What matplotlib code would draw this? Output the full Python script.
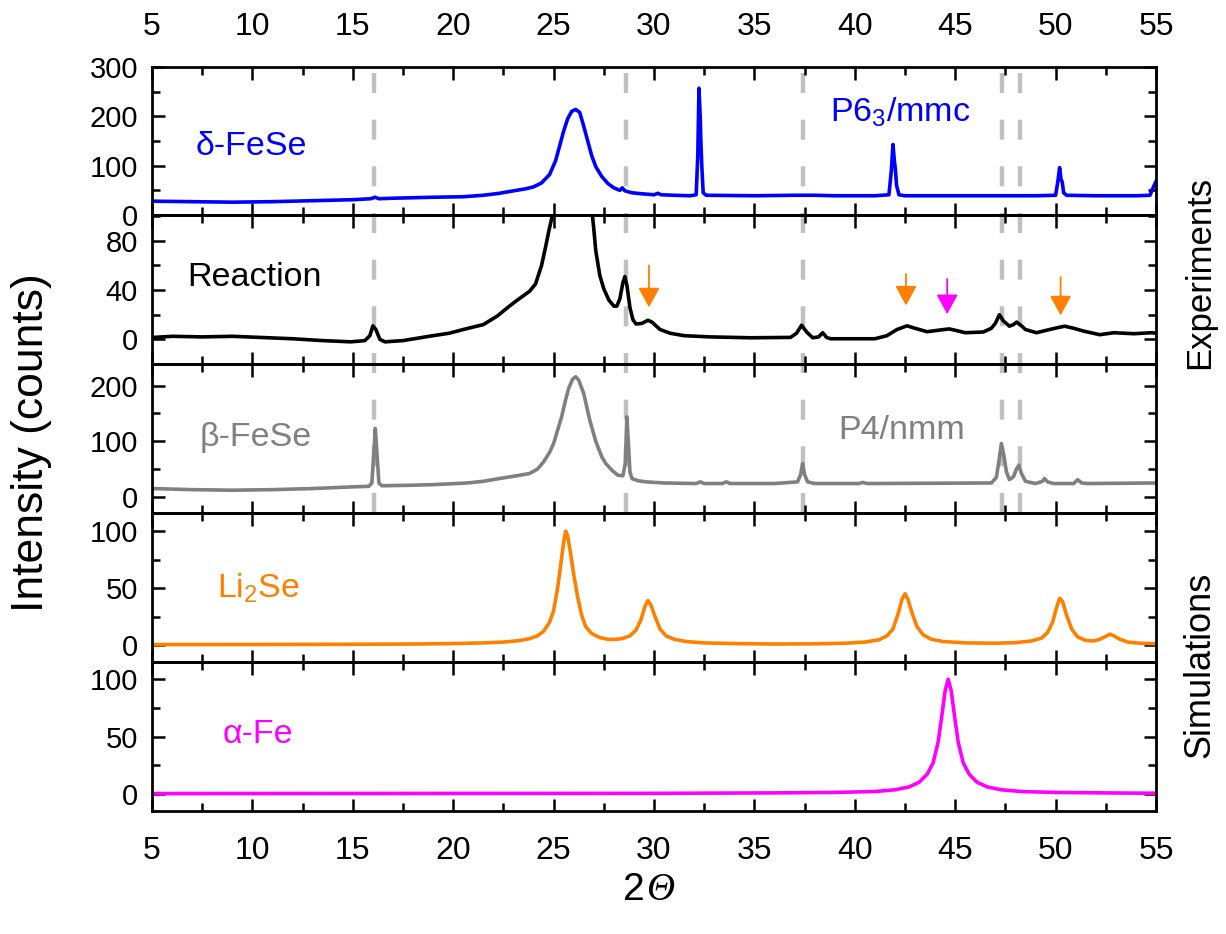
import matplotlib.pyplot as plt
from matplotlib.lines import Line2D
from matplotlib.ticker import MultipleLocator
import matplotlib.transforms as mtransforms

plt.rcParams['font.family'] = ['Liberation Sans', 'DejaVu Sans']
plt.rcParams['mathtext.fontset'] = 'custom'
plt.rcParams['mathtext.rm'] = 'Liberation Sans'
plt.rcParams['mathtext.it'] = 'Liberation Sans:italic'

# ---- data (2theta, counts) ----
delta_x = [5.0, 7.0, 9.0, 11.0, 13.0, 15.0, 15.9, 16.1, 16.3, 17.0, 19.0, 20.5, 21.5, 22.3,
           23.0, 23.6, 24.0, 24.4, 24.8, 25.1, 25.3, 25.5, 25.7, 25.9, 26.1, 26.3, 26.5,
           26.7, 26.9, 27.1, 27.4, 27.7, 28.0, 28.3, 28.42, 28.55, 28.9, 29.4, 30.0, 30.2,
           30.35, 31.0, 31.8, 32.1, 32.18, 32.24, 32.3, 32.33, 32.38, 32.45, 32.6, 35.0,
           37.0, 38.0, 39.0, 41.0, 41.7, 41.82, 41.9, 41.97, 42.02, 42.08, 42.2, 42.5, 45.0,
           47.0, 49.0, 50.0, 50.12, 50.2, 50.27, 50.33, 50.4, 50.55, 52.0, 54.0, 54.7, 54.85, 55.0]
delta_y = [28, 27, 26, 27, 29, 31, 33, 36, 33, 34, 36, 37, 40, 44,
           49, 53, 57, 65, 82, 110, 140, 170, 195, 210, 214, 208, 180,
           150, 120, 98, 78, 64, 55, 50, 55, 49, 45, 43, 41, 44,
           41, 40, 39, 41, 120, 257, 200, 155, 100, 45, 40, 39,
           40, 40, 39, 39, 41, 90, 143, 110, 93, 60, 41, 39, 39,
           39, 39, 40, 70, 96, 72, 67, 45, 40, 39, 39, 40, 55, 68]

reaction_x = [5.0, 6.0, 7.5, 9.0, 10.5, 12.0, 13.5, 14.9, 15.6, 15.85, 16.0, 16.15, 16.35,
              16.6, 17.5, 18.8, 19.8, 20.5, 21.5, 22.2, 22.8, 23.2, 23.8, 24.1, 24.4, 24.6,
              24.75, 24.9, 25.0, 25.2, 25.6, 26.0, 26.4, 26.8, 26.93, 27.0, 27.1, 27.3, 27.5,
              27.75, 28.0, 28.15, 28.3, 28.45, 28.55, 28.65, 28.8, 28.95, 29.1, 29.4, 29.7,
              29.9, 30.3, 30.8, 31.5, 32.8, 34.8, 36.8, 37.1, 37.35, 37.6, 37.9, 38.2, 38.4,
              38.6, 38.8, 41.0, 41.6, 42.1, 42.6, 43.0, 43.6, 44.2, 44.7, 45.1, 45.5, 46.4,
              46.8, 47.0, 47.2, 47.4, 47.7, 47.9, 48.06, 48.3, 48.5, 49.05, 49.7, 50.1, 50.45,
              50.9, 51.4, 52.2, 52.9, 53.9, 54.8, 55.0]
reaction_y = [1.5, 2.5, 2, 2.5, 1.5, 0.5, -1, -2, -1, 3, 11, 8, 0,
              -2, -1, 2.5, 5, 8, 12, 19, 27, 32, 39, 45, 60, 75,
              87, 98, 110, 140, 190, 210, 200, 150, 101, 90, 72, 52, 41,
              32, 27, 27, 33, 46, 51, 44, 26, 16, 12.5, 13, 15.5,
              14, 8, 5, 3, 2, 1.3, 1.6, 5, 11.5, 6, 1.3, 2, 5.4,
              1.5, 0.5, 0.5, 3, 8, 11, 9, 6.2, 7.5, 8.5, 7, 5.4, 6,
              9, 13, 20, 15, 10.7, 12, 14, 11, 8, 5.4, 8, 9.5, 10.7,
              9, 6.7, 3.8, 5.4, 4.6, 5.4, 5]

beta_x = [5.0, 7.0, 9.0, 11.0, 13.0, 15.0, 15.8, 15.95, 16.05, 16.12, 16.2, 16.3, 16.45,
          18.0, 19.0, 20.7, 21.5, 22.3, 23.0, 23.8, 24.2, 24.5, 24.8, 25.0, 25.2, 25.4,
          25.6, 25.75, 25.95, 26.1, 26.25, 26.5, 26.8, 27.1, 27.4, 27.6, 27.9, 28.2, 28.45,
          28.57, 28.65, 28.72, 28.8, 28.9, 29.2, 29.6, 30.5, 32.1, 32.3, 32.5, 33.4, 33.6,
          33.8, 36.0, 37.15, 37.3, 37.4, 37.5, 37.65, 38.0, 40.2, 40.4, 40.6, 46.8, 47.05,
          47.2, 47.3, 47.42, 47.55, 47.7, 47.9, 48.05, 48.17, 48.3, 48.5, 49.0, 49.35, 49.45,
          49.6, 49.9, 50.9, 51.1, 51.3, 51.6, 55.0]
beta_y = [15, 13, 12, 13, 15, 18, 19, 25, 80, 123, 80, 25, 20,
          21, 22, 25, 28, 33, 37, 42, 50, 63, 80, 96, 120, 144,
          175, 195, 212, 216, 210, 186, 138, 100, 72, 60, 48, 39, 38,
          60, 144, 100, 45, 33, 29, 27, 25, 24, 27, 24, 24, 27,
          24, 24, 27, 40, 60, 40, 27, 24, 24, 26, 24, 25, 35,
          70, 96, 75, 45, 31, 36, 50, 57, 42, 28, 24, 28, 33,
          27, 24, 24, 31, 25, 24, 25]

li2se_x = [5.0, 10.0, 15.0, 18.0, 20.0, 21.5, 22.5, 23.3, 23.8, 24.2, 24.5, 24.8, 25.0,
           25.2, 25.35, 25.5, 25.6, 25.7, 25.85, 26.0, 26.2, 26.4, 26.6, 26.9, 27.3, 27.7,
           28.0, 28.4, 28.8, 29.1, 29.35, 29.55, 29.7, 29.85, 30.05, 30.3, 30.6, 31.0, 31.6,
           32.5, 34.0, 36.0, 38.0, 39.5, 40.5, 41.2, 41.6, 41.9, 42.15, 42.35, 42.5, 42.65,
           42.85, 43.1, 43.4, 43.8, 44.4, 45.5, 47.0, 48.0, 48.8, 49.3, 49.6, 49.85, 50.05,
           50.2, 50.35, 50.55, 50.8, 51.1, 51.5, 51.9, 52.2, 52.5, 52.7, 52.9, 53.2, 53.6,
           54.2, 55.0]
li2se_y = [0.3, 0.4, 0.6, 0.8, 1.2, 1.8, 2.5, 3.8, 5.5, 8, 12, 20, 30,
           50, 70, 90, 100, 96, 80, 62, 42, 26, 16, 10, 6.5, 5,
           4.8, 5.5, 8, 13, 22, 34, 39, 35, 25, 14, 8, 5, 3,
           1.8, 1.2, 0.8, 1.0, 1.5, 2.5, 4.5, 8, 14, 27, 40, 45, 40,
           28, 16, 9, 5, 3, 1.8, 1.5, 2, 3.5, 6, 11, 20, 33,
           41, 38, 26, 14, 7, 4, 3.5, 5, 7.5, 9.5, 8, 5, 2.5,
           1.5, 1]

fe_x = [5.0, 20.0, 30.0, 36.0, 39.0, 41.0, 42.0, 42.7, 43.2, 43.6, 43.9, 44.15, 44.35,
        44.5, 44.65, 44.8, 44.95, 45.15, 45.4, 45.7, 46.1, 46.6, 47.3, 48.3, 50.0, 53.0, 55.0]
fe_y = [0.2, 0.3, 0.4, 0.8, 1.2, 2, 3.5, 6, 10, 17, 27, 45, 70,
        90, 100, 90, 70, 45, 27, 17, 10, 6, 3.5, 2, 1.2, 0.7, 0.5]

ref_lines = [16.05, 28.62, 37.4, 47.35, 48.22]

# arrows on the Reaction pattern: (2theta, tail, tip, colour)
arrows = [(29.75, 60, 26, '#ff8000'), (42.55, 53, 27.5, '#ff8000'),
          (44.6, 49, 20.5, '#ff00ff'), (50.25, 50.5, 19.5, '#ff8000')]

# ---- figure ----
fig = plt.figure(figsize=(12.26, 9.34), dpi=100)
W, H = 1226.0, 934.0
edges = [67, 215, 364, 513, 662, 811]
ylims = [(0, 300), (-20, 101), (-29, 239), (-15, 116), (-15, 115)]
ymaj = [100, 40, 100, 50, 50]

axes = []
for i in range(5):
    top, bot = edges[i], edges[i + 1]
    ax = fig.add_axes([152 / W, 1 - bot / H, 1004 / W, (bot - top) / H])
    ax.patch.set_visible(False)
    ax.set_xlim(5, 55)
    ax.set_ylim(*ylims[i])
    ax.xaxis.set_major_locator(MultipleLocator(5))
    ax.xaxis.set_minor_locator(MultipleLocator(2.5))
    ax.yaxis.set_major_locator(MultipleLocator(ymaj[i]))
    ax.yaxis.set_minor_locator(MultipleLocator(ymaj[i] / 2))
    ax.tick_params(which='both', direction='in', top=True, right=True, width=1.8)
    ax.tick_params(which='major', length=9)
    ax.tick_params(which='minor', length=5.5)
    ax.tick_params(axis='y', labelsize=21, pad=10)
    ax.tick_params(axis='x', labelsize=23, pad=18,
                   labelbottom=(i == 4), labeltop=(i == 0))
    for s in ax.spines.values():
        s.set_linewidth(2)
    axes.append(ax)

ax1, ax2, ax3, ax4, ax5 = axes

ax1.plot(delta_x, delta_y, color='#0000ff', lw=2.6)
ax2.plot(reaction_x, reaction_y, color='black', lw=2.6)
ax3.plot(beta_x, beta_y, color='#808080', lw=2.6)
ax4.plot(li2se_x, li2se_y, color='#ff8000', lw=2.6)
ax5.plot(fe_x, fe_y, color='#ff00ff', lw=2.6)

# grey dashed reference lines through the three experimental panels
trans = mtransforms.blended_transform_factory(ax1.transData, fig.transFigure)
for xv in ref_lines:
    ln = Line2D([xv, xv], [1 - edges[3] / H, 1 - edges[0] / H], transform=trans,
                color='#c0c0c0', lw=3.2, dashes=(4.5, 6), zorder=-1)
    fig.add_artist(ln)

for xv, tail, tip, c in arrows:
    ax2.annotate('', xy=(xv, tip), xytext=(xv, tail),
                 arrowprops=dict(arrowstyle='-|>,head_length=0.55,head_width=0.3',
                                 color=c, lw=1.3, shrinkA=0, shrinkB=0,
                                 mutation_scale=22))

lab = dict(fontsize=24.5, va='baseline', ha='left')
ax1.text(7.15, 121, 'δ-FeSe', color='#0000ff', **lab)
ax1.text(38.77, 189, 'P6$_3$/mmc', color='#0000ff', **lab)
ax2.text(6.74, 43, 'Reaction', color='black', **lab)
ax3.text(7.39, 91, 'β-FeSe', color='#808080', **lab)
ax3.text(39.2, 104, 'P4/nmm', color='#808080', **lab)
ax4.text(8.22, 41.8, 'Li$_2$Se', color='#ff8000', **lab)
ax5.text(8.5, 44, 'α-Fe', color='#ff00ff', **lab)

fig.text(32 / W, 1 - 443 / H, 'Intensity (counts)', rotation=90,
         ha='center', va='center', fontsize=32)
fig.text(1200 / W, 1 - 272 / H, 'Experiments', rotation=90,
         ha='center', va='center', fontsize=25)
fig.text(1200 / W, 1 - 665 / H, 'Simulations', rotation=90,
         ha='center', va='center', fontsize=26)
fig.text(645 / W, 1 - 900 / H, '2', ha='right', va='baseline', fontsize=28)
fig.text(646 / W, 1 - 900 / H, 'Θ', ha='left', va='baseline', fontsize=28,
         family='Liberation Serif', style='italic')

fig.savefig('out.png', dpi=100)
